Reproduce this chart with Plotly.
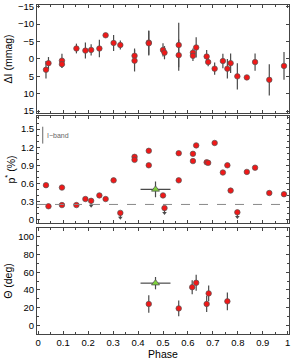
import plotly.graph_objects as go

# ---------------- data ----------------
phase = [0.031, 0.041, 0.095, 0.095, 0.153, 0.189, 0.212, 0.245, 0.270, 0.302, 0.329,
         0.386, 0.386, 0.443, 0.443, 0.500, 0.506, 0.563, 0.563, 0.620, 0.620, 0.633,
         0.675, 0.681, 0.707, 0.740, 0.758, 0.771, 0.798, 0.836, 0.869, 0.926, 0.985]
dI = [3.1, 1.2, 0.5, 1.5, -3.0, -2.4, -2.6, -3.0, -6.8, -4.6, -4.0,
      -0.9, 0.5, -4.7, -4.5, -2.6, -1.8, -4.0, -1.1, -1.8, -0.9, -3.3,
      -0.7, 0.9, 2.8, 0.6, 2.8, 1.2, 5.0, 5.3, 0.9, 6.0, 2.0]
dI_err = [2.5, 1.75, 2.0, 1.0, 1.4, 2.3, 1.6, 2.5, 0.6, 2.3, 1.3,
          2.1, 3.1, 3.5, 3.5, 1.9, 1.9, 6.4, 4.5, 1.2, 1.5, 2.9,
          1.9, 1.2, 1.75, 2.1, 2.8, 2.8, 3.8, 0.7, 2.5, 4.5, 4.0]
pol = [0.57, 0.22, 0.53, 0.24, 0.24, 0.34, 0.31, 0.40, 0.34, 0.65, 0.11,
       1.04, 0.99, 1.14, 0.90, 0.40, 0.19, 0.65, 1.10, 1.09, 0.97, 1.23,
       0.95, 0.94, 1.27, 0.78, 0.90, 0.48, 0.12, 0.79, 0.86, 0.44, 0.42]
upper_limit = [6, 10, 16, 28]
pol_floor = 0.25
iband_err = 0.14

theta_phase = [0.443, 0.563, 0.617, 0.633, 0.675, 0.683, 0.758]
theta = [24, 19, 43, 48, 24, 36, 27]
theta_err = [10, 9, 8, 9, 9, 9, 10]

avg_phase = [0.47]
avg_phase_err = [0.06]
avg_pol = [0.50]
avg_pol_err = [0.13]
avg_theta = [47.6]
avg_theta_err = [7]

# ---------------- style ----------------
RED = "#f01818"
EDGE = "#555555"
ERR = "#4a4a4a"
AX = "#444444"
FONT = "Liberation Sans, Arial, sans-serif"

fig = go.Figure()

marker = dict(color=RED, size=5.5, line=dict(color=EDGE, width=0.7))
errstyle = dict(color=ERR, thickness=1.2, width=0)

# panel 1
fig.add_trace(go.Scatter(x=phase, y=dI, mode="markers", marker=marker,
                         error_y=dict(type="data", array=dI_err, **errstyle),
                         xaxis="x", yaxis="y", showlegend=False))

# panel 2 upper-limit arrows
ul_x = [phase[i] for i in upper_limit]
ul_y = [pol[i] for i in upper_limit]
arrow_len = 0.08
fig.add_trace(go.Scatter(x=ul_x, y=ul_y, mode="markers", marker=dict(size=1, color=ERR),
                         error_y=dict(type="data", symmetric=False, array=[0]*len(ul_x),
                                      arrayminus=[arrow_len]*len(ul_x), **errstyle),
                         xaxis="x2", yaxis="y2", showlegend=False))
fig.add_trace(go.Scatter(x=ul_x, y=[v - arrow_len for v in ul_y], mode="markers",
                         marker=dict(symbol="triangle-down", size=4, color=ERR),
                         xaxis="x2", yaxis="y2", showlegend=False))
fig.add_trace(go.Scatter(x=phase, y=pol, mode="markers", marker=marker,
                         xaxis="x2", yaxis="y2", showlegend=False))
fig.add_trace(go.Scatter(x=avg_phase, y=avg_pol, mode="markers",
                         marker=dict(symbol="triangle-up", size=7, color="#7ed23c",
                                     line=dict(color=EDGE, width=0.8)),
                         error_x=dict(type="data", array=avg_phase_err, **errstyle),
                         error_y=dict(type="data", array=avg_pol_err, **errstyle),
                         xaxis="x2", yaxis="y2", showlegend=False))

# panel 3
fig.add_trace(go.Scatter(x=theta_phase, y=theta, mode="markers", marker=marker,
                         error_y=dict(type="data", array=theta_err, **errstyle),
                         xaxis="x3", yaxis="y3", showlegend=False))
fig.add_trace(go.Scatter(x=avg_phase, y=avg_theta, mode="markers",
                         marker=dict(symbol="triangle-up", size=7, color="#7ed23c",
                                     line=dict(color=EDGE, width=0.8)),
                         error_x=dict(type="data", array=avg_phase_err, **errstyle),
                         error_y=dict(type="data", array=avg_theta_err, **errstyle),
                         xaxis="x3", yaxis="y3", showlegend=False))

# dashed floor and I-band error bar
fig.add_shape(type="line", xref="x2 domain", yref="y2", x0=0, x1=1, y0=pol_floor, y1=pol_floor,
              line=dict(color="#888888", width=1, dash="dash"))
fig.add_shape(type="line", xref="x2", yref="y2", x0=0.018, x1=0.018,
              y0=1.40 - iband_err, y1=1.40 + iband_err, line=dict(color="#666666", width=1))
fig.add_annotation(x=0.026, y=1.40, xref="x2", yref="y2", text="I\u2212band", showarrow=False,
                   xanchor="left", yanchor="middle", font=dict(size=7, color="#666666", family=FONT))

tickfont = dict(size=9.5, color="black", family=FONT)
titlefont = dict(size=10.5, color="black", family=FONT)

def xax(anchor, labels):
    return dict(domain=[0, 1], anchor=anchor, range=[-0.005, 1.005], tick0=0, dtick=0.1,
                ticks="inside", ticklen=3, tickcolor=AX, showline=True, linecolor=AX,
                linewidth=1, mirror="ticks", showgrid=False, zeroline=False, automargin=False,
                showticklabels=labels, tickfont=tickfont,
                minor=dict(dtick=0.05, ticks="inside", ticklen=2, tickcolor=AX))

def yax(anchor, dom, rng, dtick, minor, title):
    d = dict(domain=dom, anchor=anchor, range=rng, tick0=0, dtick=dtick,
             ticks="inside", ticklen=3, tickcolor=AX, showline=True, linecolor=AX,
             linewidth=1, mirror="ticks", showgrid=False, zeroline=False, automargin=False,
             tickfont=tickfont, title=dict(text=title, font=titlefont, standoff=3))
    if minor:
        d["minor"] = dict(dtick=minor, ticks="inside", ticklen=2, tickcolor=AX)
    return d

fig.update_layout(
    width=291, height=360,
    margin=dict(l=37, r=2, t=5, b=26),
    paper_bgcolor="white", plot_bgcolor="white",
    font=dict(family=FONT, size=10),
    hovermode=False,
    xaxis=xax("y", False),
    xaxis2=xax("y2", False),
    xaxis3=dict(xax("y3", True), title=dict(text="Phase", font=titlefont, standoff=1)),
    yaxis=yax("x", [0.672, 1.0], [15.5, -15.5], 5, None, "\u0394I (mmag)"),
    yaxis2=yax("x2", [0.337, 0.663], [-0.06, 1.72], 0.3, 0.1, "p<sup>*</sup> (%)"),
    yaxis3=yax("x3", [0.0, 0.322], [-10, 110], 20, 10, "\u0398 (deg)"),
)

fig.write_html("out.html", config={"displayModeBar": False},
               post_script="document.body.style.margin='0';")
